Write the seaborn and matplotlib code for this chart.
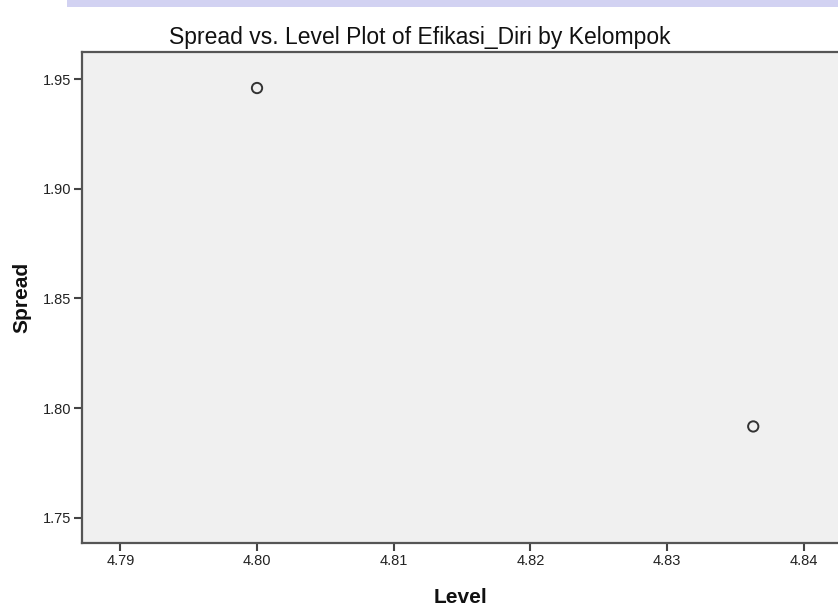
import numpy as np
import pandas as pd
import matplotlib.pyplot as plt
import matplotlib.patches as mpatches
import seaborn as sns

sns.set_style("white")
plt.rcParams['font.family'] = ['Liberation Sans', 'DejaVu Sans']

level = [4.8000, 4.8363]
spread = [1.9459, 1.7917]
xticks = [4.79, 4.80, 4.81, 4.82, 4.83, 4.84]
yticks = [1.75, 1.80, 1.85, 1.90, 1.95]

df = pd.DataFrame({'Level': level, 'Spread': spread})

fig = plt.figure(figsize=(8.38, 6.05), dpi=100)
# faint banner strip at the top edge
fig.patches.append(mpatches.Rectangle((0.08, 0.988), 0.92, 0.012, transform=fig.transFigure,
                                      facecolor='#d2d2f2', edgecolor='none'))
ax = fig.add_axes([0.0979, 0.1025, 0.9021, 0.8115])
ax.set_facecolor('#f0f0f0')

sns.scatterplot(data=df, x='Level', y='Spread', ax=ax, marker='o', s=55,
                facecolor='none', edgecolor='#333333', linewidth=1.4)

ax.set_xlim(4.7872, 4.8425)
ax.set_ylim(1.7386, 1.9623)
ax.set_xticks(xticks)
ax.set_yticks(yticks)
ax.set_xticklabels([f'{v:.2f}' for v in xticks])
ax.set_yticklabels([f'{v:.2f}' for v in yticks])
ax.tick_params(axis='both', direction='out', length=6, width=1.5, color='#444444',
               labelsize=10.5, labelcolor='#222222', pad=2)
ax.tick_params(axis='x', bottom=True)
ax.tick_params(axis='y', left=True)

for side in ['left', 'bottom', 'top']:
    ax.spines[side].set_color('#555555')
    ax.spines[side].set_linewidth(1.6)
ax.spines['right'].set_visible(False)

ax.set_xlabel('Level', fontsize=15, fontweight='bold', labelpad=14, color='#111111')
ax.set_ylabel('Spread', fontsize=15, fontweight='bold', labelpad=8, color='#111111')
ax.set_title('Spread vs. Level Plot of Efikasi_Diri by Kelompok', fontsize=16.5, pad=6,
             x=0.447, color='#111111', fontweight='medium')

plt.savefig('out.png', dpi=100)
plt.close()
